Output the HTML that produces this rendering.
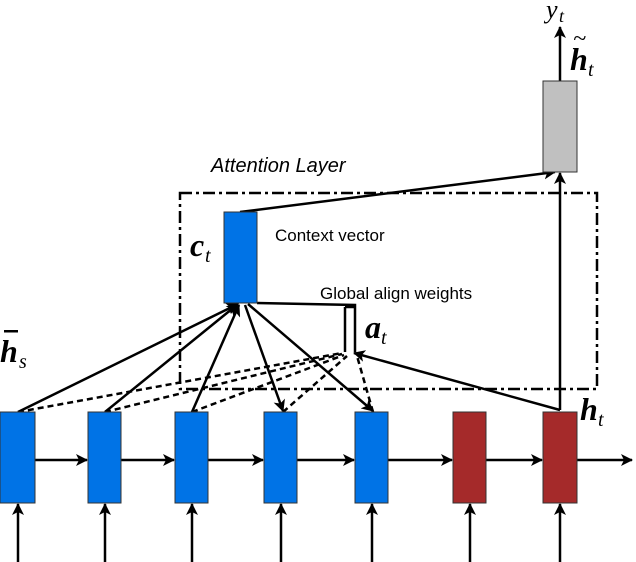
<!DOCTYPE html>
<html><head><style>body{margin:0;background:#fff}svg{display:block}</style></head><body>
<svg width="636" height="562" viewBox="0 0 636 562" xmlns="http://www.w3.org/2000/svg" font-family="Liberation Sans, sans-serif">
<defs><marker id="a" markerWidth="12" markerHeight="12" refX="11" refY="6" orient="auto" markerUnits="userSpaceOnUse"><path d="M0,0 L12,6 L0,12 L3,6z" fill="#000"/></marker></defs>
<rect x="180" y="193" width="417" height="196" fill="none" stroke="#000" stroke-width="2.5" stroke-dasharray="12,4,3,4"/>
<g stroke="#000" stroke-width="2.5" fill="none">
<line x1="35" y1="460" x2="87" y2="460" marker-end="url(#a)"/>
<line x1="121" y1="460" x2="174" y2="460" marker-end="url(#a)"/>
<line x1="208" y1="460" x2="263" y2="460" marker-end="url(#a)"/>
<line x1="297" y1="460" x2="354" y2="460" marker-end="url(#a)"/>
<line x1="388" y1="460" x2="452" y2="460" marker-end="url(#a)"/>
<line x1="486" y1="460" x2="542" y2="460" marker-end="url(#a)"/>
<line x1="577" y1="460" x2="632" y2="460" marker-end="url(#a)"/>
<line x1="18" y1="562" x2="18" y2="504" marker-end="url(#a)"/>
<line x1="105" y1="562" x2="105" y2="504" marker-end="url(#a)"/>
<line x1="192" y1="562" x2="192" y2="504" marker-end="url(#a)"/>
<line x1="281" y1="562" x2="281" y2="504" marker-end="url(#a)"/>
<line x1="372" y1="562" x2="372" y2="504" marker-end="url(#a)"/>
<line x1="470" y1="562" x2="470" y2="504" marker-end="url(#a)"/>
<line x1="560" y1="562" x2="560" y2="504" marker-end="url(#a)"/>
<line x1="18" y1="412" x2="238" y2="304" marker-end="url(#a)"/>
<line x1="105" y1="412" x2="238" y2="304" marker-end="url(#a)"/>
<line x1="192" y1="412" x2="239" y2="305" marker-end="url(#a)"/>
<line x1="245" y1="305" x2="283" y2="411" marker-end="url(#a)"/>
<line x1="248" y1="304" x2="373" y2="411" marker-end="url(#a)"/>
<line x1="560" y1="410" x2="354" y2="353" marker-end="url(#a)"/>
<line x1="560" y1="410" x2="560" y2="173" marker-end="url(#a)"/>
<line x1="240" y1="212" x2="555" y2="172" marker-end="url(#a)"/>
<line x1="560" y1="81" x2="560" y2="27" marker-end="url(#a)"/>
<polyline points="257,303 355,305 355,352"/>
<line x1="345" y1="307" x2="345" y2="352"/>
<line x1="345" y1="307" x2="355" y2="307"/>
</g>
<g stroke="#000" stroke-width="2.5" fill="none" stroke-dasharray="6,4">
<line x1="18" y1="412" x2="342" y2="353"/>
<line x1="105" y1="412" x2="342" y2="354"/>
<line x1="192" y1="412" x2="344" y2="355"/>
<line x1="283" y1="412" x2="347" y2="356"/>
<line x1="373" y1="412" x2="357" y2="356"/>
</g>
<g stroke="#333" stroke-width="1">
<rect x="0" y="412" width="35" height="91" fill="#0073e6"/>
<rect x="88" y="412" width="33" height="91" fill="#0073e6"/>
<rect x="175" y="412" width="33" height="91" fill="#0073e6"/>
<rect x="264" y="412" width="33" height="91" fill="#0073e6"/>
<rect x="355" y="412" width="33" height="91" fill="#0073e6"/>
<rect x="453" y="412" width="33" height="91" fill="#a52a2a"/>
<rect x="543" y="412" width="34" height="91" fill="#a52a2a"/>
<rect x="224" y="212" width="33" height="91" fill="#0073e6"/>
<rect x="543" y="81" width="34" height="91" fill="#c0c0c0"/>
</g>
<text x="211" y="172" font-size="20" font-style="italic">Attention Layer</text>
<text x="275" y="241" font-size="17">Context vector</text>
<text x="320" y="299" font-size="17">Global align weights</text>
<g font-family="Liberation Serif, serif" font-style="italic" font-weight="bold">
<text x="0" y="362" font-size="32">h</text><text x="19" y="368" font-size="20" font-weight="normal">s</text>
<rect x="4" y="330" width="14" height="2.5" fill="#000"/>
<text x="190" y="256" font-size="32">c</text><text x="205" y="262" font-size="20" font-weight="normal">t</text>
<text x="365" y="338" font-size="32">a</text><text x="381" y="344" font-size="20" font-weight="normal">t</text>
<text x="580" y="420" font-size="32">h</text><text x="598" y="426" font-size="20" font-weight="normal">t</text>
<text x="570" y="70" font-size="32">h</text><text x="588" y="76" font-size="20" font-weight="normal">t</text>
<text x="573" y="46" font-size="24" font-weight="normal">~</text>
<text x="546" y="18" font-size="26" font-weight="normal">y</text><text x="559" y="22" font-size="18" font-weight="normal">t</text>
</g>
</svg>
</body></html>
